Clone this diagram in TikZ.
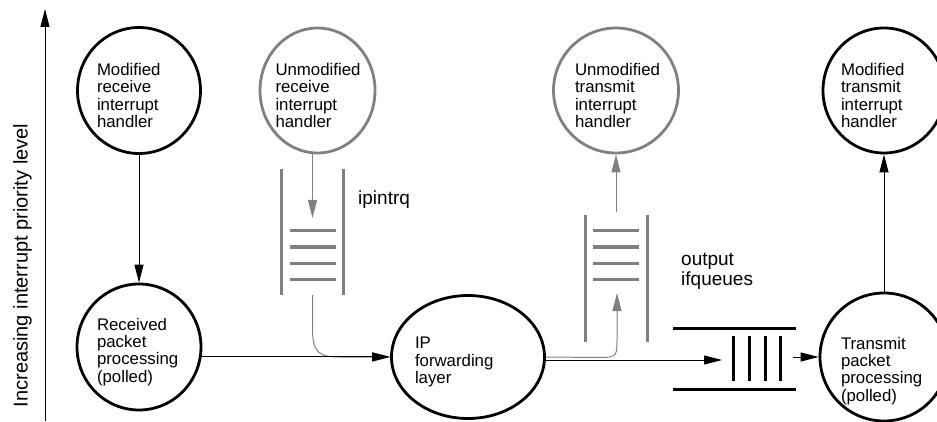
\documentclass[tikz,border=0pt]{standalone}
\usepackage{fontspec}
\setmainfont{Liberation Sans}
\usetikzlibrary{arrows.meta,shapes.geometric}
\definecolor{qgray}{RGB}{128,128,128}
\begin{document}
\begin{tikzpicture}[x=1pt,y=-1pt,
  circ/.style={ellipse, draw=black, line width=2.8pt, inner sep=0pt},
  gcirc/.style={circ, draw=qgray},
  ctext/.style={text width=#1, align=left, inner sep=0pt, font=\fontsize{16.8}{17.2}\selectfont},
  ctext/.default=84pt,
  lbl/.style={inner sep=0pt, align=left, font=\fontsize{19}{20}\selectfont},
  conn/.style={line width=1pt, -{Triangle[length=18pt,width=9pt]}},
  gconn/.style={conn, draw=qgray},
  qline/.style={line width=3pt, draw=qgray},
  hline/.style={line width=3pt, draw=black}]
\useasboundingbox (0,0) rectangle (937,422);

% axis
\coordinate (axb) at (45,421);
\coordinate (axt) at (45,9);
\draw[conn] (axb) -- (axt);
\node[rotate=90, inner sep=0pt, font=\fontsize{20}{20}\selectfont] (axl) at (22.5,265.5) {Increasing interrupt priority level};

% circles
\node[circ,  minimum width=123pt, minimum height=126pt] (Mr) at (139,90.5) {};
\node[gcirc, minimum width=115pt, minimum height=125pt] (Ur) at (317.5,90.5) {};
\node[gcirc, minimum width=125pt, minimum height=125pt] (Ut) at (616,90.5) {};
\node[circ,  minimum width=122pt, minimum height=125pt] (Mt) at (884,90.5) {};
\node[circ,  minimum width=124pt, minimum height=126pt] (Rx) at (139,347) {};
\node[circ,  minimum width=153pt, minimum height=123pt] (IP) at (468,357) {};
\node[circ,  minimum width=128pt, minimum height=128pt] (Tx) at (884,357) {};

% circle texts
\node[ctext] (Mrt) at ([yshift=-5pt]Mr.center) {Modified\\receive\\interrupt\\handler};
\node[ctext] (Urt) at ([yshift=-5pt]Ur.center) {Unmodified\\receive\\interrupt\\handler};
\node[ctext=82pt] (Utt) at ([yshift=-5pt]Ut.center) {Unmodified\\transmit\\interrupt\\handler};
\node[ctext=86pt] (Mtt) at ([yshift=-5pt]Mt.center) {Modified\\transmit\\interrupt\\handler};
\node[ctext] (Rxt) at ([yshift=-5pt]Rx.center) {Received\\packet\\processing\\(polled)};
\node[ctext=106pt] (IPt) at ([yshift=-5pt]IP.center) {IP\\forwarding\\layer};
\node[ctext=86pt] (Txt) at ([yshift=-14pt]Tx.center) {Transmit\\packet\\processing\\(polled)};

% queue ipintrq (vertical, gray)
\draw[qline] (281.7,169) -- (281.7,295);
\draw[qline] (343.3,169) -- (343.3,295);
\foreach \yy in {231,247,263,279} \draw[qline] (290,\yy) -- (335.7,\yy);
\node[lbl, anchor=base west] (lq1) at (358,205) {ipintrq};

% output ifqueue (vertical, gray)
\draw[qline] (585,215) -- (585,341.7);
\draw[qline] (647.3,215) -- (647.3,341.7);
\foreach \yy in {231,247,263,279} \draw[qline] (592.7,\yy) -- (639,\yy);
\node[lbl, anchor=north west] (lq2) at (681,253.5) {output\\ifqueues};

% horizontal queue (black)
\draw[hline] (673.3,328.3) -- (795.7,328.3);
\draw[hline] (673.3,389.3) -- (795.7,389.3);
\foreach \xx in {733.3,749,765,780.7} \draw[hline] (\xx,336) -- (\xx,380.7);

% connection points
\coordinate (q1in) at (312.5,218);
\coordinate (q1out) at (312.5,295);
\coordinate (q2in) at (617,293);
\coordinate (q2out) at (616,211.7);
\coordinate (hqin) at (722,360);
\coordinate (hqout) at (793,357);

% connectors
\draw[conn] (Mr.south) -- (Rx.north);
\draw[gconn] (q1in |- Ur.south) -- (q1in);
\draw[gconn] (q1out) -- (312.5,328) .. controls (312.5,352) and (318,357) .. (340,357) -- (IP.west);
\draw[conn] (Rx.-9) -- (Rx.-9 -| IP.west);
\draw[gconn] (IP.east) -- (602,357.5) .. controls (617,357.5) and (617,354) .. (617,340) -- (q2in);
\draw[conn] (hqin -| IP.east) -- (hqin);
\draw[gconn] (q2out) -- (Ut.south);
\draw[conn] (hqout) -- (Tx.west);
\draw[conn] (Tx.north) -- (Mt.south);
\end{tikzpicture}
\end{document}
